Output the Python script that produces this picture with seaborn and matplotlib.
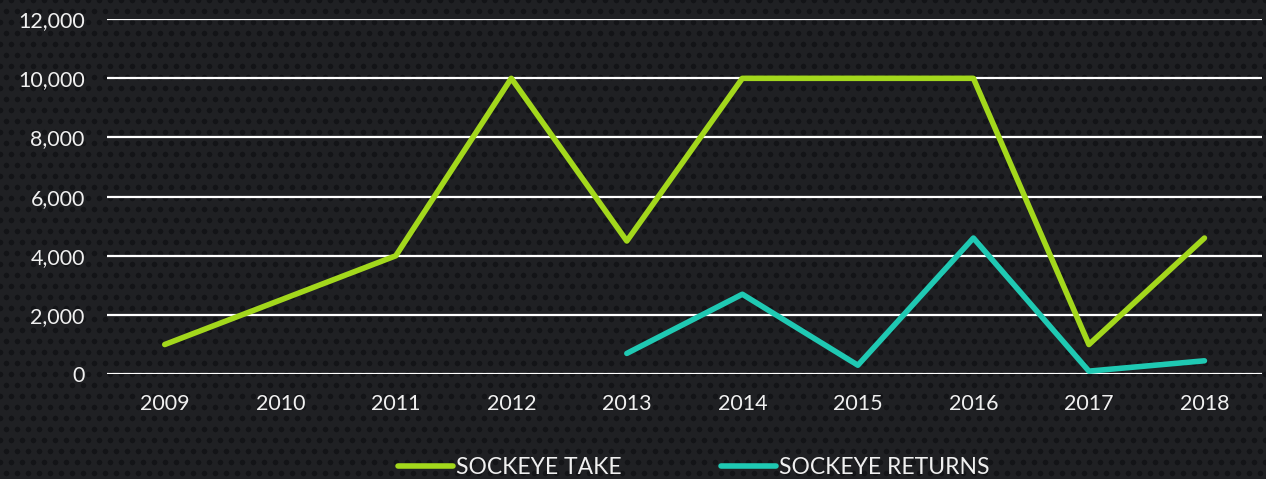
import numpy as np
import pandas as pd
import seaborn as sns
import matplotlib.pyplot as plt
import matplotlib.ticker as ticker

years = ['2009', '2010', '2011', '2012', '2013', '2014', '2015', '2016', '2017', '2018']
take = [1000, 2500, 4000, 10000, 4500, 10000, 10000, 10000, 1000, 4600]
returns = [np.nan, np.nan, np.nan, np.nan, 700, 2700, 300, 4600, 100, 450]

df = pd.DataFrame({'year': years * 2,
                   'value': take + returns,
                   'series': ['SOCKEYE TAKE'] * 10 + ['SOCKEYE RETURNS'] * 10})

sns.set_style('dark')
plt.rcParams['font.family'] = ['Lato', 'DejaVu Sans']

bg = '#1f2023'
f = plt.figure(figsize=(12.66, 4.79), dpi=100, facecolor=bg)

# dotted texture behind everything
bgax = f.add_axes([0, 0, 1, 1], zorder=-10)
bgax.set_xlim(0, 1266)
bgax.set_ylim(479, 0)
bgax.set_facecolor(bg)
xx, yy = np.meshgrid(np.arange(0, 1270, 11), np.arange(0, 484, 11))
xx = xx + (np.arange(xx.shape[0])[:, None] % 2) * 5.5
bgax.scatter(xx.ravel(), yy.ravel(), s=16, color='#131417', linewidths=0)
bgax.axis('off')

ax = f.add_axes([0.0845, 0.219, 0.9125, 0.741])
ax.set_facecolor('none')

g = sns.lineplot(data=df, x='year', y='value', hue='series',
                 palette=['#a3d81c', '#1fc9b3'], linewidth=4,
                 solid_capstyle='round', sort=False, ax=ax)

g.set_ylim(0, 12000)
g.set_xlim(-0.5, 9.5)
g.yaxis.set_major_locator(ticker.MultipleLocator(2000))
g.yaxis.set_major_formatter(ticker.FuncFormatter(lambda v, p: f'{int(v):,}'))
g.grid(True, axis='y', color='white', linewidth=1.6)
g.grid(False, axis='x')
g.set_axisbelow(True)
g.tick_params(length=0, labelsize=15.5, colors='#f0f0f0')
g.tick_params(axis='x', pad=14)
g.tick_params(axis='y', pad=16)
g.set_xlabel(None)
g.set_ylabel(None)
for s in g.spines.values():
    s.set_visible(False)

leg = g.legend(loc='center', bbox_to_anchor=(0.508, -0.262), ncol=2,
               frameon=False, fontsize=16.5, handlelength=2.4,
               handletextpad=0.15, columnspacing=4.3, labelcolor='#f0f0f0')
for h in leg.get_lines():
    h.set_linewidth(4)
    h.set_solid_capstyle('round')

plt.savefig('out.png', dpi=100, facecolor=bg)
